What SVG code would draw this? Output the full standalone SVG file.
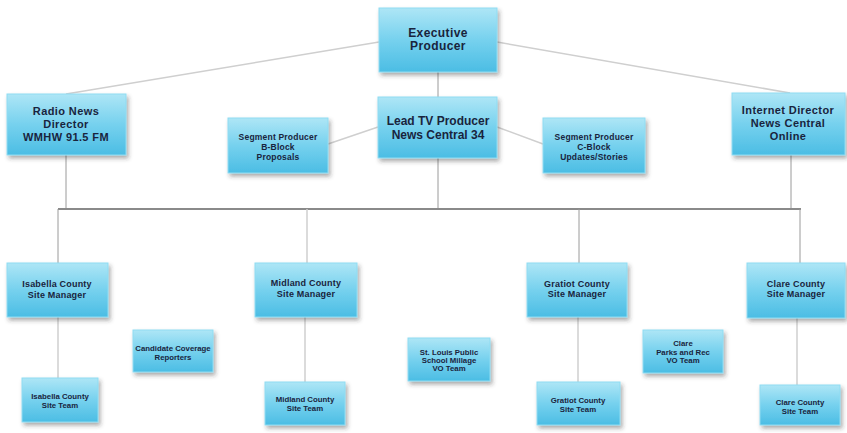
<svg xmlns="http://www.w3.org/2000/svg" width="847" height="433" viewBox="0 0 847 433">
<defs>
<linearGradient id="g" x1="0" y1="0" x2="0" y2="1">
<stop offset="0" stop-color="#aee6f6"/>
<stop offset="0.5" stop-color="#76d1ee"/>
<stop offset="1" stop-color="#4bbde4"/>
</linearGradient>
<filter id="sh" x="-10%" y="-10%" width="125%" height="135%">
<feDropShadow dx="2" dy="3" stdDeviation="2" flood-color="#333" flood-opacity="0.4"/>
</filter>
</defs>
<style>
rect.b{fill:url(#g);stroke:#8fdcf2;stroke-width:1;filter:url(#sh)}
text{font-family:"Liberation Sans",Arial,sans-serif;font-weight:bold;fill:#19243d;text-anchor:middle}
.l{stroke:#9a9a9a;stroke-width:1;fill:none}
.lt{stroke:#cfcfcf;stroke-width:1.5;fill:none}
.bus{stroke:#8a8a8a;stroke-width:2;fill:none}
</style>
<rect width="847" height="433" fill="#fff"/>
<g id="connectors">
<line class="lt" x1="379" y1="42" x2="66" y2="94"/>
<line class="lt" x1="497" y1="42" x2="790" y2="93"/>
<line class="l" x1="438" y1="72" x2="438" y2="97"/>
<line class="lt" x1="378" y1="127" x2="328" y2="144"/>
<line class="lt" x1="497" y1="127" x2="543" y2="144"/>
<line class="l" x1="66" y1="155" x2="66" y2="209"/>
<line class="l" x1="438" y1="158" x2="438" y2="209"/>
<line class="l" x1="791" y1="155" x2="791" y2="209"/>
<line class="bus" x1="58" y1="209" x2="801" y2="209"/>
<line class="l" x1="58" y1="209" x2="58" y2="263"/>
<line class="lt" x1="307" y1="209" x2="307" y2="263"/>
<line class="l" x1="579" y1="209" x2="579" y2="263"/>
<line class="l" x1="800" y1="209" x2="800" y2="263"/>
<line class="lt" x1="58" y1="317" x2="58" y2="378"/>
<line class="lt" x1="305" y1="317" x2="305" y2="382"/>
<line class="lt" x1="578" y1="317" x2="578" y2="382"/>
<line class="lt" x1="797" y1="318" x2="797" y2="385"/>
</g>
<g id="exec"><rect class="b" x="379" y="8" width="118" height="64"/><text x="438" y="37" font-size="12" letter-spacing="0.4">Executive</text><text x="438" y="50" font-size="12" letter-spacing="0.4">Producer</text></g>
<g id="radio"><rect class="b" x="7" y="94" width="119" height="61"/><text x="66" y="115" font-size="11" letter-spacing="0.4">Radio News</text><text x="66" y="128" font-size="11" letter-spacing="0.4">Director</text><text x="66" y="141" font-size="11" letter-spacing="0.4">WMHW 91.5 FM</text></g>
<g id="lead"><rect class="b" x="378" y="97" width="119" height="61"/><text x="438" y="125" font-size="12">Lead TV Producer</text><text x="438" y="139" font-size="12">News Central 34</text></g>
<g id="segb"><rect class="b" x="228" y="118" width="100" height="55"/><text x="278" y="140" font-size="8.5" letter-spacing="0.2">Segment Producer</text><text x="278" y="150" font-size="8.5" letter-spacing="0.2">B-Block</text><text x="278" y="160" font-size="8.5" letter-spacing="0.2">Proposals</text></g>
<g id="segc"><rect class="b" x="543" y="118" width="102" height="55"/><text x="594" y="140" font-size="8.5" letter-spacing="0.2">Segment Producer</text><text x="594" y="150" font-size="8.5" letter-spacing="0.2">C-Block</text><text x="594" y="160" font-size="8.5" letter-spacing="0.2">Updates/Stories</text></g>
<g id="internet"><rect class="b" x="732" y="93" width="113" height="62"/><text x="788" y="114" font-size="11" letter-spacing="0.4">Internet Director</text><text x="788" y="127" font-size="11" letter-spacing="0.4">News Central</text><text x="788" y="140" font-size="11" letter-spacing="0.4">Online</text></g>
<g id="isabella-sm"><rect class="b" x="7" y="263" width="101" height="54"/><text x="57" y="287" font-size="9" letter-spacing="0.2">Isabella County</text><text x="57" y="298" font-size="9" letter-spacing="0.2">Site Manager</text></g>
<g id="isabella-st"><rect class="b" x="22" y="378" width="76" height="44"/><text x="60" y="399" font-size="7.8">Isabella County</text><text x="60" y="408" font-size="7.8">Site Team</text></g>
<g id="candidate"><rect class="b" x="133" y="330" width="80" height="42"/><text x="173" y="351" font-size="7.8">Candidate Coverage</text><text x="173" y="360" font-size="7.8">Reporters</text></g>
<g id="midland-sm"><rect class="b" x="255" y="263" width="102" height="54"/><text x="306" y="286" font-size="9" letter-spacing="0.2">Midland County</text><text x="306" y="297" font-size="9" letter-spacing="0.2">Site Manager</text></g>
<g id="midland-st"><rect class="b" x="265" y="382" width="80" height="43"/><text x="305" y="402" font-size="7.8">Midland County</text><text x="305" y="411" font-size="7.8">Site Team</text></g>
<g id="stlouis"><rect class="b" x="408" y="338" width="82" height="43"/><text x="449" y="355" font-size="7.8">St. Louis Public</text><text x="449" y="363" font-size="7.8">School Millage</text><text x="449" y="371" font-size="7.8">VO Team</text></g>
<g id="gratiot-sm"><rect class="b" x="527" y="263" width="100" height="54"/><text x="577" y="287" font-size="9" letter-spacing="0.2">Gratiot County</text><text x="577" y="297" font-size="9" letter-spacing="0.2">Site Manager</text></g>
<g id="gratiot-st"><rect class="b" x="537" y="382" width="83" height="43"/><text x="578" y="403" font-size="7.8">Gratiot County</text><text x="578" y="412" font-size="7.8">Site Team</text></g>
<g id="clareparks"><rect class="b" x="643" y="330" width="80" height="43"/><text x="683" y="346" font-size="7.8">Clare</text><text x="683" y="355" font-size="7.8">Parks and Rec</text><text x="683" y="363" font-size="7.8">VO Team</text></g>
<g id="clare-sm"><rect class="b" x="747" y="263" width="98" height="55"/><text x="796" y="287" font-size="9" letter-spacing="0.2">Clare County</text><text x="796" y="297" font-size="9" letter-spacing="0.2">Site Manager</text></g>
<g id="clare-st"><rect class="b" x="760" y="385" width="80" height="40"/><text x="800" y="405" font-size="7.8">Clare County</text><text x="800" y="414" font-size="7.8">Site Team</text></g>
</svg>
